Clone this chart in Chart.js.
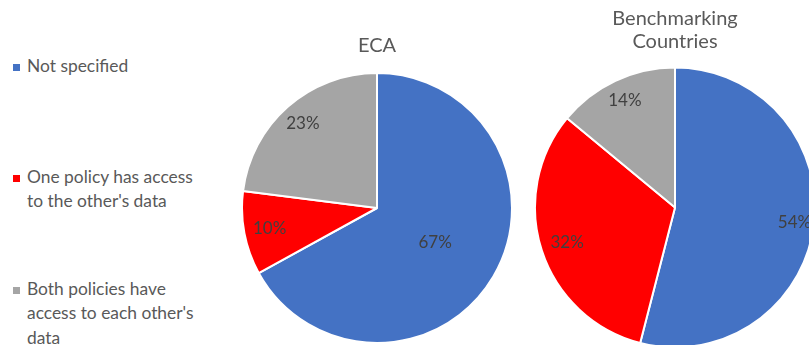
<!DOCTYPE html>
<html lang="en">
<head>
  <meta charset="UTF-8">
  <title>Data access between policies</title>
  <script src="https://cdn.jsdelivr.net/npm/chart.js"></script>
  <style>
    html, body {
      margin: 0;
      padding: 0;
      background: #fff;
      width: 809px;
      height: 345px;
      overflow: hidden;
      font-family: 'Lato', sans-serif;
    }

    .legend {
      position: absolute;
      left: 12px;
      top: 54px;
      width: 210px;
      margin: 0;
      padding: 0;
      list-style: none;
      color: #595959;
      font-size: 17.4px;
      line-height: 24.5px;
    }

    .legend li {
      position: relative;
      padding-left: 15px;
    }

    .legend li:nth-child(2) { margin-top: 86px; }
    .legend li:nth-child(3) { margin-top: 63px; }

    .legend .box {
      position: absolute;
      left: 1px;
      top: 10px;
      width: 7px;
      height: 7px;
    }

    #ecaChart, #benchChart {
      position: absolute;
    }

    #ecaChart { left: 241px; top: 34px; }
    #benchChart { left: 534px; top: 7px; }
  </style>
</head>
<body>

  <ul class="legend" id="legend"></ul>
  <canvas id="ecaChart" width="272" height="310"></canvas>
  <canvas id="benchChart" width="282" height="342"></canvas>

  <script>
    const categories = [
      ['Not specified'],
      ['One policy has access', "to the other's data"],
      ['Both policies have', "access to each other's", 'data']
    ];
    const ecaValues = [67, 10, 23];
    const benchValues = [54, 32, 14];
    const sliceColors = ['#4472C4', '#FF0000', '#A5A5A5'];

    // legend on the left
    const legend = document.getElementById('legend');
    categories.forEach((lines, i) => {
      const li = document.createElement('li');
      li.innerHTML = `<span class="box" style="background:${sliceColors[i]}"></span>` + lines.join('<br>');
      legend.appendChild(li);
    });

    // percentage labels inside the slices
    const sliceLabels = {
      id: 'sliceLabels',
      afterDatasetsDraw(chart, args, opts) {
        const ctx = chart.ctx;
        const meta = chart.getDatasetMeta(0);
        const data = chart.data.datasets[0].data;
        ctx.save();
        ctx.font = '17px Lato, sans-serif';
        ctx.fillStyle = '#404040';
        ctx.textAlign = 'center';
        ctx.textBaseline = 'middle';
        meta.data.forEach((arc, i) => {
          const mid = (arc.startAngle + arc.endAngle) / 2;
          const r = arc.outerRadius * opts.radius[i];
          ctx.fillText(data[i] + '%', arc.x + Math.cos(mid) * r, arc.y + Math.sin(mid) * r);
        });
        ctx.restore();
      }
    };

    function makePie(id, title, values, labelRadius, titlePad, lineHeight) {
      return new Chart(document.getElementById(id), {
        type: 'pie',
        data: {
          labels: categories.map(c => c.join(' ')),
          datasets: [{
            data: values,
            backgroundColor: sliceColors,
            borderColor: '#ffffff',
            borderWidth: 2
          }]
        },
        options: {
          responsive: false,
          animation: false,
          layout: { padding: 0 },
          plugins: {
            legend: { display: false },
            tooltip: { enabled: false },
            title: {
              display: true,
              text: title,
              color: '#595959',
              font: { family: 'Lato', size: 20, weight: 'normal', lineHeight: lineHeight },
              padding: { top: 0, bottom: titlePad }
            },
            sliceLabels: { radius: labelRadius }
          }
        },
        plugins: [sliceLabels]
      });
    }

    makePie('ecaChart', 'ECA', ecaValues, [0.5, 0.81, 0.83], 14, 1.2);
    makePie('benchChart', ['Benchmarking', 'Countries'], benchValues, [0.86, 0.81, 0.84], 12.8, 1.15);
  </script>

</body>
</html>
